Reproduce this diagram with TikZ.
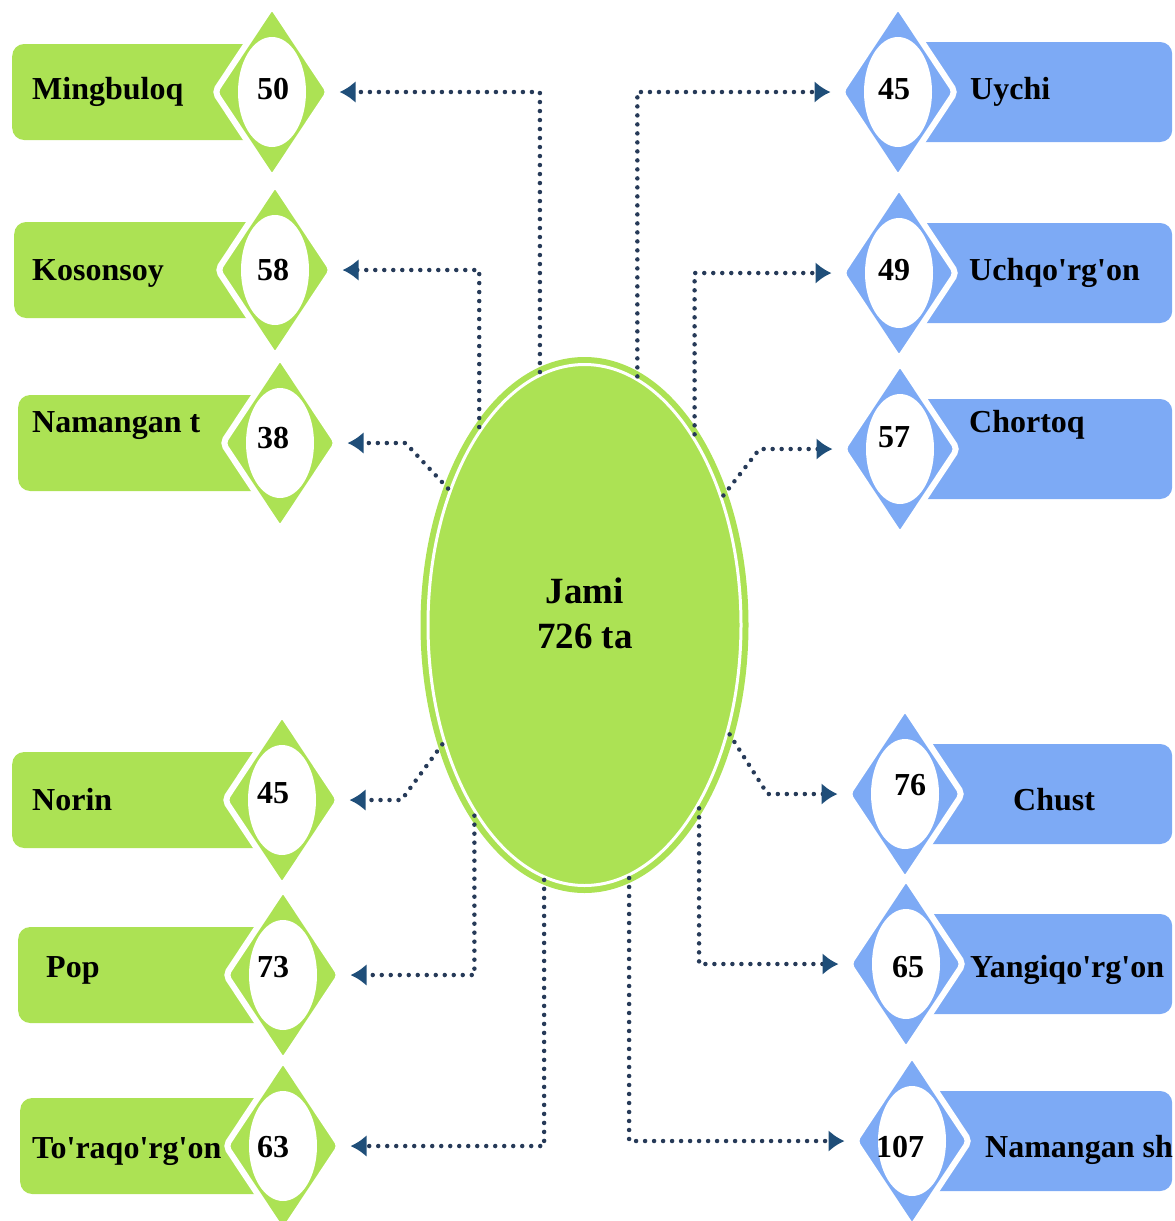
\documentclass[tikz,border=0pt]{standalone}
\usepackage{fontspec}
\setmainfont{Liberation Serif}[Ligatures=TeXOff]
\usepackage{tikz}
\usetikzlibrary{shapes.geometric,arrows.meta,calc}

\definecolor{lgreen}{RGB}{172,226,84}
\definecolor{lblue}{RGB}{125,170,245}
\definecolor{dotcol}{RGB}{38,58,88}
\definecolor{tipcol}{RGB}{31,78,121}

\begin{document}
\begin{tikzpicture}[x=1pt,y=-1pt,
    lbox/.style={rectangle,fill=lgreen,rounded corners=12pt,minimum height=96pt,anchor=west,inner sep=0pt},
    rbox/.style={rectangle,fill=lblue,rounded corners=12pt,minimum height=100pt,anchor=west,inner sep=0pt},
    dia/.style={diamond,fill=#1,draw=white,line width=6pt,minimum width=117pt,minimum height=175pt,inner sep=0pt,rounded corners=5pt,
      path picture={\fill[white] (path picture bounding box.center) ellipse (34pt and 55pt);}},
    lab/.style={font=\fontsize{32}{38}\selectfont\bfseries,inner sep=0pt,anchor=base west},
    num/.style={font=\fontsize{32}{38}\selectfont\bfseries,inner sep=0pt,anchor=base},
    conn/.style={draw=dotcol,line width=4.5pt,line cap=round,dash pattern=on 0pt off 9pt,shorten >=6pt,
      -{Latex[length=16pt,width=22pt,color=tipcol]}}]
  \useasboundingbox (0,0) rectangle (1175,1221);
  \foreach \i/\bx/\dx/\yc/\tx/\ty/\nx/\ny/\lab/\val in {
      1/12/272/92/32/99/273/99/Mingbuloq/50,
      2/14/275/270/32/280/273/280/Kosonsoy/58,
      3/18/280/443/32/432/273/448/Namangan t/38,
      4/12/282/800/32/810/273/803/Norin/45,
      5/18/283/975/46/977/273/977/Pop/73,
      6/20/283/1146/32/1158/273/1157/To'raqo'rg'on/63}{
    \node[lbox,minimum width={(\dx-\bx)*1pt}] (lb\i) at (\bx,\yc) {};
    \node[dia=lgreen] (ld\i) at (\dx,\yc) {};
    \node[lab] (lt\i) at (\tx,\ty) {\lab};
    \node[num] (ln\i) at (\nx,\ny) {\val};
  }
  \foreach \i/\dx/\yc/\tx/\ty/\nx/\ny/\lab/\val in {
      1/898/92/970/99/894/99/Uychi/45,
      2/899/273/969/280/894/280/Uchqo'rg'on/49,
      3/900/449/969/432/894/447/Chortoq/57,
      4/905/794/1013/810/910/795/Chust/76,
      5/906/964/970/977/908/977/Yangiqo'rg'on/65,
      6/912/1141/985/1157/900/1157/Namangan sh/107}{
    \node[rbox,minimum width={(1172-\dx)*1pt}] (rb\i) at (\dx,\yc) {};
    \node[dia=lblue] (rd\i) at (\dx,\yc) {};
    \node[lab] (rt\i) at (\tx,\ty) {\lab};
    \node[num] (rn\i) at (\nx,\ny) {\val};
  }
  \node[ellipse,fill=lgreen,draw=lgreen,double=white,double distance=3pt,line width=6pt,
    minimum width=313pt,minimum height=521pt] (jami) at (584.5,625) {};
  \node[font=\fontsize{37}{45}\selectfont\bfseries,align=center] (total) at (585,613) {Jami\\726 ta};
  \draw[conn] (jami.100) |- (ld1.east);
  \draw[conn] (jami.118) |- (ld2.east);
  \draw[conn] (jami.135) -- ($(ld3.east)+(64,0)$) -- (ld3.east);
  \draw[conn] (jami.220) -- ($(ld4.east)+(58,0)$) -- (ld4.east);
  \draw[conn] (jami.240) |- (ld5.east);
  \draw[conn] (jami.261) |- (ld6.east);
  \draw[conn] (jami.78) |- (rd1.west);
  \draw[conn] (jami.60) |- (rd2.west);
  \draw[conn] (jami.43) -- ($(rd3.west)+(-79,0)$) -- (rd3.west);
  \draw[conn] (jami.323) -- ($(rd4.west)+(-76,0)$) -- (rd4.west);
  \draw[conn] (jami.302) |- (rd5.west);
  \draw[conn] (jami.280) |- (rd6.west);
\end{tikzpicture}
\end{document}
